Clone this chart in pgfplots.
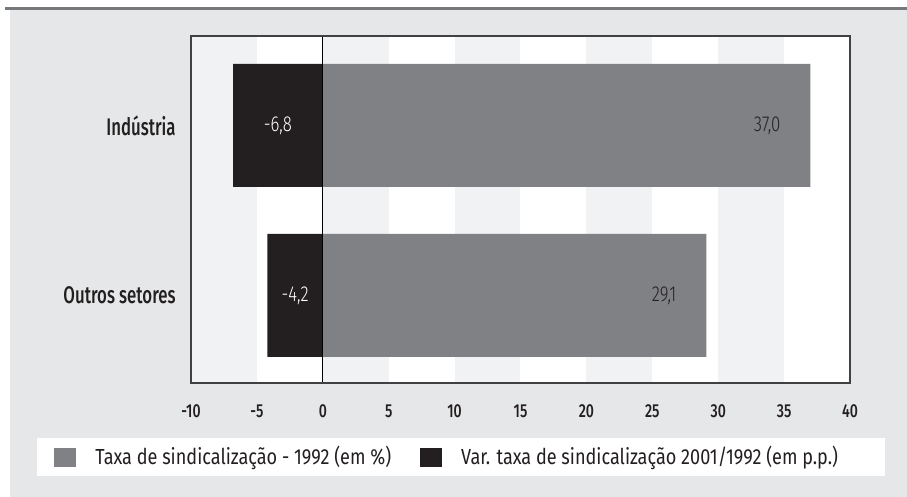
\documentclass[border=0pt]{standalone}
\usepackage{fontspec}
\setmainfont{Fira Sans}[FakeStretch=0.83]
\newfontfamily\catfont{Fira Sans Medium}[FakeStretch=0.70]
\newfontfamily\tickfont{Fira Sans Medium}[FakeStretch=0.75]
\newfontfamily\lightfont{Fira Sans Light}[FakeStretch=0.78]
\usepackage{pgfplots}
\pgfplotsset{compat=1.18}

\definecolor{bgc}{HTML}{E6E7E8}
\definecolor{bandc}{HTML}{F1F2F3}
\definecolor{rulec}{HTML}{77787B}
\definecolor{axisc}{HTML}{414042}
\definecolor{taxac}{HTML}{808184}
\definecolor{varc}{HTML}{231F20}
\definecolor{textc}{HTML}{231F20}

\begin{document}
\begin{tikzpicture}
\useasboundingbox (0,0) rectangle (453.5pt,-248.5pt);
% page frame in reference pixels (1 px = 0.5 pt)
\begin{scope}[x=0.5pt,y=-0.5pt]
\fill[white] (0,0) rectangle (907,497);
\fill[rulec] (5,7) rectangle (907,10.5);
\fill[bgc] (10,10.5) rectangle (907,497);
\fill[white] (37,438) rectangle (885,476);
\end{scope}

\begin{axis}[
    at={(95.5pt,-191.5pt)}, anchor=south west,
    width=329.5pt, height=173.5pt, scale only axis,
    xmin=-10, xmax=40, ymin=-0.515, ymax=1.526,
    axis background/.style={fill=white},
    axis on top,
    axis line style={draw=axisc, line width=0.6pt},
    xtick={-10,-5,0,5,10,15,20,25,30,35,40},
    xticklabels={-10,-5,0,5,10,15,20,25,30,35,40},
    xtick style={draw=none},
    xticklabel style={font=\tickfont\fontsize{9.4}{11}\selectfont, text=textc, inner sep=0pt, yshift=-10.5pt},
    ytick={0,1},
    yticklabels={Outros setores,Indústria},
    ytick style={draw=none},
    yticklabel style={font=\catfont\fontsize{12}{14}\selectfont, text=textc, inner sep=0pt, xshift=-7.5pt, anchor=east},
    legend columns=2,
    legend cell align=left,
    legend style={at={(-0.2079,-0.2133)}, anchor=west, draw=none, fill=none,
        inner sep=0pt, font=\fontsize{10.9}{12}\selectfont, text=textc,
        nodes={inner sep=0pt},
        /tikz/every odd column/.style={column sep=9.5pt},
        /tikz/every even column/.style={column sep=14.5pt}},
]

% alternating background bands
\fill[bandc] (axis cs:-10,-0.515) rectangle (axis cs:-5,1.526);
\fill[bandc] (axis cs:0,-0.515) rectangle (axis cs:5,1.526);
\fill[bandc] (axis cs:10,-0.515) rectangle (axis cs:15,1.526);
\fill[bandc] (axis cs:20,-0.515) rectangle (axis cs:25,1.526);
\fill[bandc] (axis cs:30,-0.515) rectangle (axis cs:35,1.526);

% Taxa de sindicalizacao 1992
\addplot[xbar, bar width=61.5pt, bar shift=0pt, fill=taxac, draw=none,
    legend image code/.code={\fill[taxac] (0pt,-4.75pt) rectangle (11pt,4.75pt);}]
    coordinates {(37.0,1) (29.1,0)};
\addlegendentry{Taxa de sindicalização - 1992 (em \%)}

% Variacao 2001/1992
\addplot[xbar, bar width=61.5pt, bar shift=0pt, fill=varc, draw=none,
    legend image code/.code={\fill[varc] (0pt,-4.75pt) rectangle (11pt,4.75pt);}]
    coordinates {(-6.8,1) (-4.2,0)};
\addlegendentry{Var. taxa de sindicalização 2001/1992 (em p.p.)}

% value labels
\addplot[draw=none, mark=none, forget plot, nodes near coords, point meta=explicit symbolic,
    nodes near coords style={anchor=east, xshift=-11.5pt, text=textc, font=\lightfont\fontsize{10.8}{12}\selectfont}]
    table[meta=lab] {
x y lab
37.0 1 37,0
29.1 0 29,1
};
\addplot[draw=none, mark=none, forget plot, nodes near coords, point meta=explicit symbolic,
    nodes near coords style={anchor=center, text=white, font=\lightfont\fontsize{10.8}{12}\selectfont}]
    table[meta=lab] {
x y lab
-3.4 1 -6,8
-2.1 0 -4,2
};

\draw[black, line width=0.5pt] (axis cs:0,-0.515) -- (axis cs:0,1.526);
\end{axis}
\end{tikzpicture}
\end{document}
